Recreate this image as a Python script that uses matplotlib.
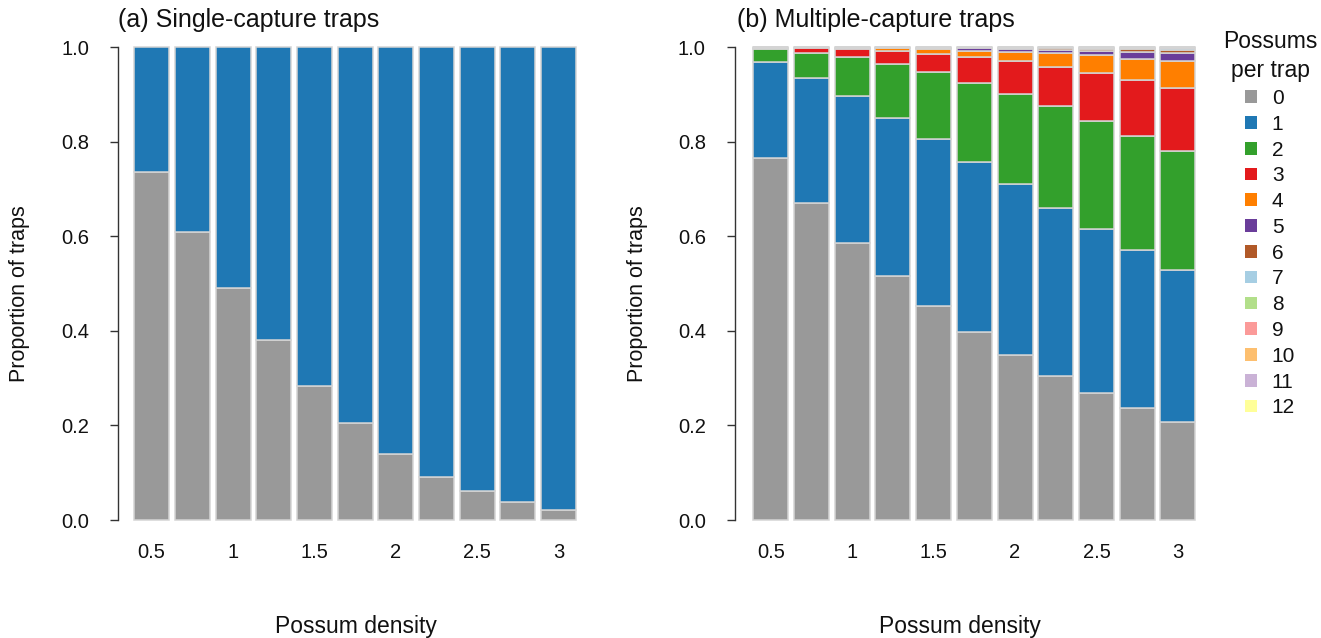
import matplotlib
matplotlib.use('Agg')
import matplotlib.pyplot as plt
from matplotlib.patches import Patch
import numpy as np

plt.rcParams['font.family'] = ['Liberation Sans', 'DejaVu Sans']

# ---------------- data ----------------
density = [0.5, 0.75, 1.0, 1.25, 1.5, 1.75, 2.0, 2.25, 2.5, 2.75, 3.0]
tick_positions = [0.5, 1.0, 1.5, 2.0, 2.5, 3.0]
tick_labels = ['0.5', '1', '1.5', '2', '2.5', '3']
categories = ['0', '1', '2', '3', '4', '5', '6', '7', '8', '9', '10', '11', '12']
colors = ['#999999', '#1f78b4', '#33a02c', '#e31a1c', '#ff7f00', '#6a3d9a',
          '#b15928', '#a6cee3', '#b2df8a', '#fb9a99', '#fdbf6f', '#cab2d6', '#ffff99']

# (a) single-capture traps: proportion with 0 and 1 possum
single_0 = [0.736, 0.609, 0.490, 0.380, 0.283, 0.205, 0.140, 0.091, 0.061, 0.038, 0.021]
single_1 = [0.264, 0.391, 0.510, 0.620, 0.717, 0.795, 0.860, 0.909, 0.939, 0.962, 0.979]

# (b) multiple-capture traps: proportion with k possums
multi_0 = [0.766, 0.671, 0.587, 0.516, 0.452, 0.398, 0.349, 0.305, 0.269, 0.237, 0.208]
multi_1 = [0.203, 0.264, 0.309, 0.335, 0.353, 0.359, 0.361, 0.356, 0.346, 0.334, 0.321]
multi_2 = [0.027, 0.053, 0.083, 0.114, 0.142, 0.168, 0.191, 0.214, 0.230, 0.241, 0.251]
multi_3 = [0.003, 0.010, 0.017, 0.027, 0.039, 0.054, 0.069, 0.084, 0.101, 0.118, 0.134]
multi_4 = [0.001, 0.002, 0.003, 0.006, 0.010, 0.014, 0.019, 0.028, 0.037, 0.046, 0.058]
multi_5 = [0.000, 0.000, 0.001, 0.002, 0.003, 0.005, 0.007, 0.008, 0.010, 0.014, 0.016]
multi_6 = [0.000, 0.000, 0.000, 0.000, 0.001, 0.002, 0.003, 0.004, 0.004, 0.006, 0.007]
multi_7 = [0.000, 0.000, 0.000, 0.000, 0.000, 0.000, 0.001, 0.001, 0.002, 0.002, 0.003]
multi_8 = [0.000, 0.000, 0.000, 0.000, 0.000, 0.000, 0.000, 0.000, 0.001, 0.001, 0.001]
multi_9 = [0.000, 0.000, 0.000, 0.000, 0.000, 0.000, 0.000, 0.000, 0.000, 0.001, 0.001]
multi_10 = [0.000] * 11
multi_11 = [0.000] * 11
multi_12 = [0.000] * 11

single_series = [single_0, single_1]
multi_series = [multi_0, multi_1, multi_2, multi_3, multi_4, multi_5, multi_6,
                multi_7, multi_8, multi_9, multi_10, multi_11, multi_12]

# ---------------- figure ----------------
W, H = 1321, 638
fig = plt.figure(figsize=(W / 100, H / 100), dpi=100)

bottom = 0.1553
height = 0.8002
ax1 = fig.add_axes([118.3 / W, bottom, 0.3580, height])
ax2 = fig.add_axes([735.0 / W, bottom, 0.3599, height])

bar_w = 0.215
edge = '#d4d4d4'


def stacked(ax, series):
    base = np.zeros(len(density))
    for i, vals in enumerate(series):
        v = np.array(vals)
        ax.bar(density, v, width=bar_w, bottom=base, color=colors[i],
               edgecolor=edge, linewidth=1.1, zorder=2)
        base = base + v


stacked(ax1, single_series)
stacked(ax2, multi_series)

for ax, xl in ((ax1, 0.295), (ax2, 0.28)):
    ax.set_xlim(xl, 3.2)
    ax.set_ylim(-0.04, 1.04)
    for s in ('top', 'right', 'bottom'):
        ax.spines[s].set_visible(False)
    ax.spines['left'].set_bounds(0, 1)
    ax.spines['left'].set_color('#333333')
    ax.spines['left'].set_linewidth(1.0)
    ax.set_yticks([0, 0.2, 0.4, 0.6, 0.8, 1.0])
    ax.set_yticklabels(['0.0', '0.2', '0.4', '0.6', '0.8', '1.0'])
    ax.tick_params(axis='y', length=6, width=1, color='#333333', pad=15,
                   labelsize=14.5, labelcolor='#111111')
    ax.set_xticks(tick_positions)
    ax.set_xticklabels(tick_labels)
    ax.tick_params(axis='x', length=0, pad=3, labelsize=14.5, labelcolor='#111111')
    ax.set_ylabel('Proportion of traps', fontsize=15.5, color='#111111')
    ax.set_xlabel('Possum density', fontsize=16.5, color='#111111')

ax1.yaxis.set_label_coords(-0.187, 0.48)
ax2.yaxis.set_label_coords(-0.183, 0.48)
ax1.xaxis.set_label_coords(0.503, -0.150)
ax2.xaxis.set_label_coords(0.473, -0.150)

ax1.text(0.0, 1.003, '(a) Single-capture traps', transform=ax1.transAxes,
         fontsize=18, ha='left', va='baseline', color='#111111')
ax2.text(0.004, 1.003, '(b) Multiple-capture traps', transform=ax2.transAxes,
         fontsize=18, ha='left', va='baseline', color='#111111')

handles = [Patch(facecolor=c, edgecolor='none') for c in colors]
leg = fig.legend(handles, categories, loc='upper left',
                 bbox_to_anchor=(1223 / W, 1 - 30 / H),
                 frameon=False, fontsize=15, title='Possums\nper trap',
                 title_fontsize=16.5, handlelength=0.56, handleheight=0.56,
                 handletextpad=0.72, labelspacing=0.325, borderpad=0,
                 borderaxespad=0)
leg.get_title().set_multialignment('center')
leg.get_title().set_linespacing(1.35)
leg.get_title().set_color('#111111')
for t in leg.get_texts():
    t.set_color('#111111')

fig.savefig('out.png', dpi=100)
